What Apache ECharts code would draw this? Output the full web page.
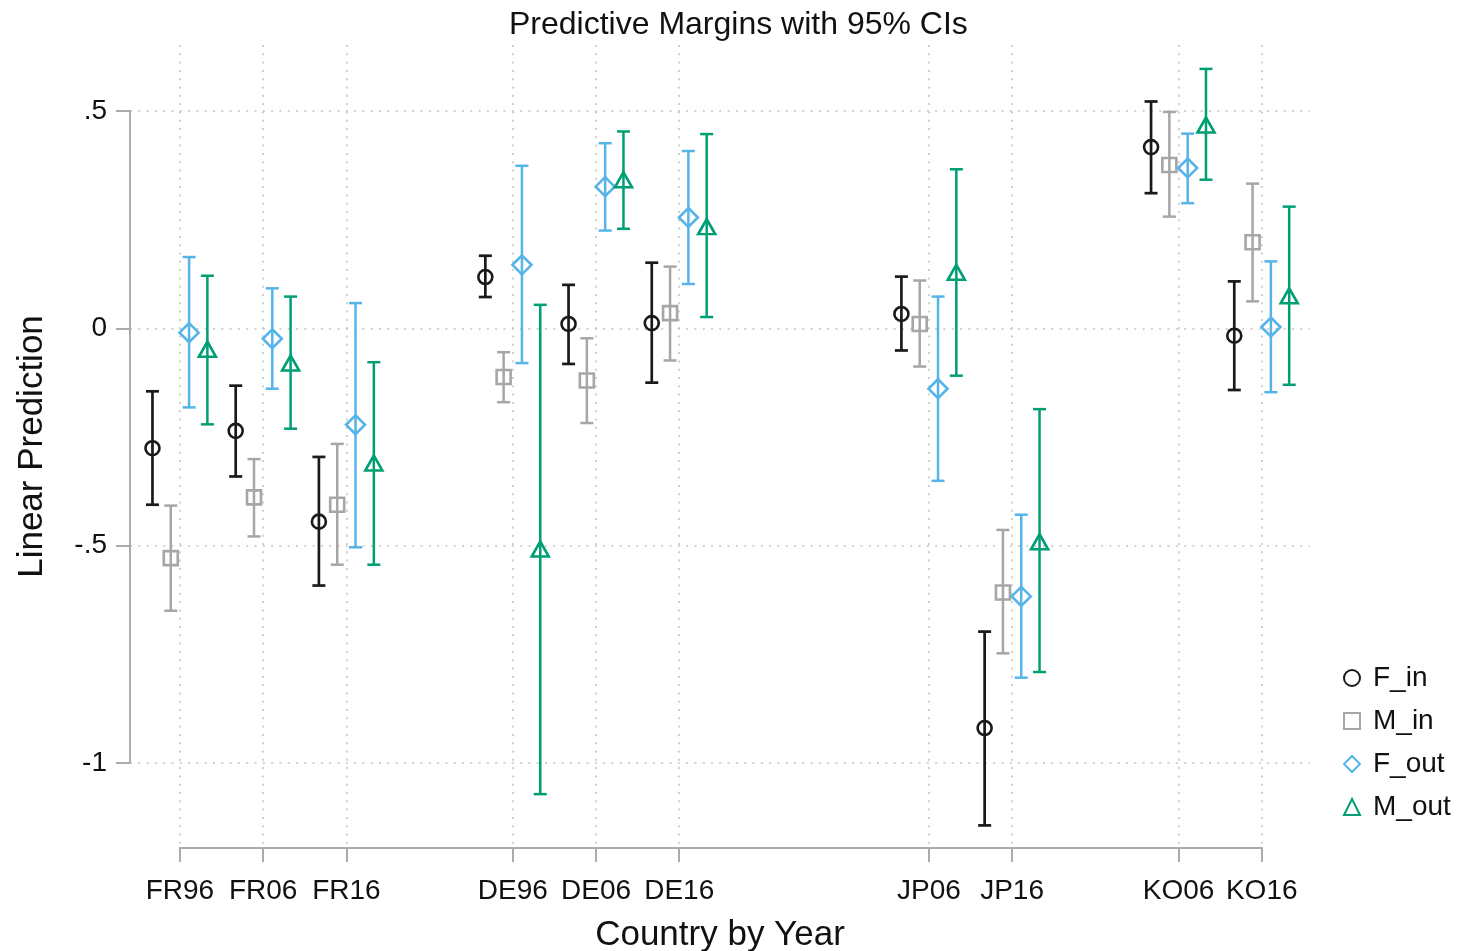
<!DOCTYPE html>
<html><head><meta charset="utf-8">
<script src="https://cdn.jsdelivr.net/npm/echarts@6/dist/echarts.min.js"></script>
<style>html,body{margin:0;padding:0;background:#fff}#chart{width:1464px;height:951px}</style>
</head><body><div id="chart"></div>
<script>
// ---------------- data ----------------
const categories = ['FR96','FR06','FR16','DE96','DE06','DE16','JP06','JP16','KO06','KO16'];
const xPositions = [1, 2, 3, 5, 6, 7, 10, 11, 13, 14];
const yTickValues = [-1, -0.5, 0, 0.5];
const yTickLabels = ['-1', '-.5', '0', '.5'];
const seriesNames = ['F_in', 'M_in', 'F_out', 'M_out'];

const F_in_mean  = [-0.276, -0.236, -0.445,  0.118,  0.010,  0.012,  0.033, -0.920, 0.417, -0.017];
const F_in_lo    = [-0.406, -0.341, -0.592,  0.072, -0.082, -0.125, -0.051, -1.144, 0.311, -0.142];
const F_in_hi    = [-0.145, -0.132, -0.296,  0.167,  0.100,  0.151,  0.119, -0.698, 0.522,  0.108];

const M_in_mean  = [-0.529, -0.389, -0.406, -0.112, -0.120,  0.035,  0.010, -0.608, 0.376,  0.198];
const M_in_lo    = [-0.650, -0.479, -0.544, -0.170, -0.218, -0.074, -0.088, -0.748, 0.257,  0.062];
const M_in_hi    = [-0.408, -0.301, -0.266, -0.055, -0.023,  0.142,  0.110, -0.464, 0.498,  0.333];

const F_out_mean = [-0.010, -0.024, -0.222,  0.146,  0.326,  0.255, -0.139, -0.617, 0.369,  0.003];
const F_out_lo   = [-0.182, -0.139, -0.504, -0.080,  0.225,  0.102, -0.351, -0.804, 0.288, -0.147];
const F_out_hi   = [ 0.164,  0.092,  0.058,  0.374,  0.426,  0.408,  0.073, -0.429, 0.448,  0.154];

const M_out_mean = [-0.048, -0.080, -0.310, -0.508,  0.342,  0.234,  0.129, -0.491, 0.468,  0.075];
const M_out_lo   = [-0.221, -0.231, -0.544, -1.072,  0.229,  0.026, -0.109, -0.791, 0.342, -0.130];
const M_out_hi   = [ 0.121,  0.073, -0.078,  0.054,  0.453,  0.447,  0.366, -0.186, 0.597,  0.280];

// ---------------- styling / layout ----------------
const FONT = 'Liberation Sans, Arial, sans-serif';
const TXT = '#111111';
const AXC = '#ababab';
const GRIDC = '#c4c4c4';
const X_MIN = 0.4, X_MAX = 14.58, Y_MIN = -1.196, Y_MAX = 0.652;

const groups = [
  {name: seriesNames[0], mean: F_in_mean,  lo: F_in_lo,  hi: F_in_hi,  color: '#1a1a1a', symbol: 'circle',  size: 14,       off: -0.33, lw: 2.7},
  {name: seriesNames[1], mean: M_in_mean,  lo: M_in_lo,  hi: M_in_hi,  color: '#a6a6a6', symbol: 'rect',    size: 14,       off: -0.11, lw: 2.5},
  {name: seriesNames[2], mean: F_out_mean, lo: F_out_lo, hi: F_out_hi, color: '#56b4e9', symbol: 'diamond', size: [19, 19], off:  0.11, lw: 2.5},
  {name: seriesNames[3], mean: M_out_mean, lo: M_out_lo, hi: M_out_hi, color: '#009e73', symbol: 'triangle',size: [17, 15], off:  0.33, lw: 2.5}
];

const series = [];

// axis frame lines (Stata style: spanning only the tick range)
series.push({
  type: 'custom', silent: true, clip: false, z: 1,
  data: [[0]],
  renderItem: function (params, api) {
    const a = api.coord([X_MIN, yTickValues[yTickValues.length - 1]]);
    const b = api.coord([X_MIN, yTickValues[0]]);
    const c = api.coord([xPositions[0], Y_MIN]);
    const d = api.coord([xPositions[xPositions.length - 1], Y_MIN]);
    const st = {stroke: AXC, lineWidth: 2};
    return {type: 'group', children: [
      {type: 'line', shape: {x1: a[0], y1: a[1] - 1, x2: b[0], y2: b[1] + 1}, style: st},
      {type: 'line', shape: {x1: c[0] - 1, y1: c[1], x2: d[0] + 1, y2: d[1]}, style: st}
    ]};
  }
});

groups.forEach(function (g) {
  const ciData = xPositions.map(function (p, i) { return [p + g.off, g.lo[i], g.hi[i]]; });
  const ptData = xPositions.map(function (p, i) { return [p + g.off, g.mean[i]]; });
  series.push({
    name: g.name + ' CI', type: 'custom', z: 2, silent: true,
    encode: {x: 0, y: [1, 2]},
    data: ciData,
    renderItem: function (params, api) {
      const x = api.value(0), lo = api.value(1), hi = api.value(2);
      const pl = api.coord([x, lo]), ph = api.coord([x, hi]);
      const hw = 6.5;
      const st = {stroke: g.color, lineWidth: g.lw};
      return {type: 'group', children: [
        {type: 'line', shape: {x1: pl[0], y1: pl[1], x2: ph[0], y2: ph[1]}, style: st},
        {type: 'line', shape: {x1: pl[0] - hw, y1: pl[1], x2: pl[0] + hw, y2: pl[1]}, style: st},
        {type: 'line', shape: {x1: ph[0] - hw, y1: ph[1], x2: ph[0] + hw, y2: ph[1]}, style: st}
      ]};
    }
  });
  series.push({
    name: g.name, type: 'scatter', z: 3,
    symbol: g.symbol, symbolSize: g.size,
    itemStyle: {color: 'rgba(255,255,255,0)', borderColor: g.color, borderWidth: 2.6, opacity: 1},
    emphasis: {disabled: true},
    data: ptData
  });
});

const option = {
  animation: false,
  backgroundColor: '#ffffff',
  textStyle: {fontFamily: FONT},
  title: {
    text: 'Predictive Margins with 95% CIs',
    left: 504, top: 4,
    textStyle: {fontFamily: FONT, fontSize: 32, fontWeight: 'normal', color: TXT}
  },
  grid: {left: 130, right: 154, top: 45, bottom: 103, containLabel: false, outerBoundsMode: 'none'},
  legend: {
    orient: 'vertical', left: 1338, top: 658,
    data: seriesNames,
    itemWidth: 16, itemHeight: 16, itemGap: 13,
    symbolKeepAspect: true,
    textStyle: {fontFamily: FONT, fontSize: 28, color: TXT, lineHeight: 30, padding: [0, 0, 0, 8]},
    selectedMode: false
  },
  xAxis: {
    type: 'value', min: X_MIN, max: X_MAX,
    name: 'Country by Year', nameLocation: 'middle', nameGap: 70,
    nameTextStyle: {fontFamily: FONT, fontSize: 35, color: TXT},
    axisLine: {show: false, onZero: false},
    axisTick: {show: true, customValues: xPositions, length: 14, lineStyle: {color: AXC, width: 2}},
    axisLabel: {
      customValues: xPositions, margin: 29, fontFamily: FONT, fontSize: 28, color: TXT,
      formatter: function (v) { const i = xPositions.indexOf(v); return i >= 0 ? categories[i] : ''; }
    },
    splitLine: {show: true, lineStyle: {color: GRIDC, width: 1.6, type: [2, 6.3]}}
  },
  yAxis: {
    type: 'value', min: Y_MIN, max: Y_MAX,
    name: 'Linear Prediction', nameLocation: 'middle', nameGap: 80, nameRotate: 90,
    nameTextStyle: {fontFamily: FONT, fontSize: 35, color: TXT},
    axisLine: {show: false, onZero: false},
    axisTick: {show: true, customValues: yTickValues, length: 14, lineStyle: {color: AXC, width: 2}},
    axisLabel: {
      customValues: yTickValues, margin: 23, fontFamily: FONT, fontSize: 28, color: TXT,
      formatter: function (v) { const i = yTickValues.indexOf(v); return i >= 0 ? yTickLabels[i] : ''; }
    },
    splitLine: {show: true, lineStyle: {color: GRIDC, width: 1.6, type: [2, 6.3]}}
  },
  series: series
};

const chart = echarts.init(document.getElementById('chart'), null, {renderer: 'canvas'});
chart.setOption(option);
</script>
</body></html>
